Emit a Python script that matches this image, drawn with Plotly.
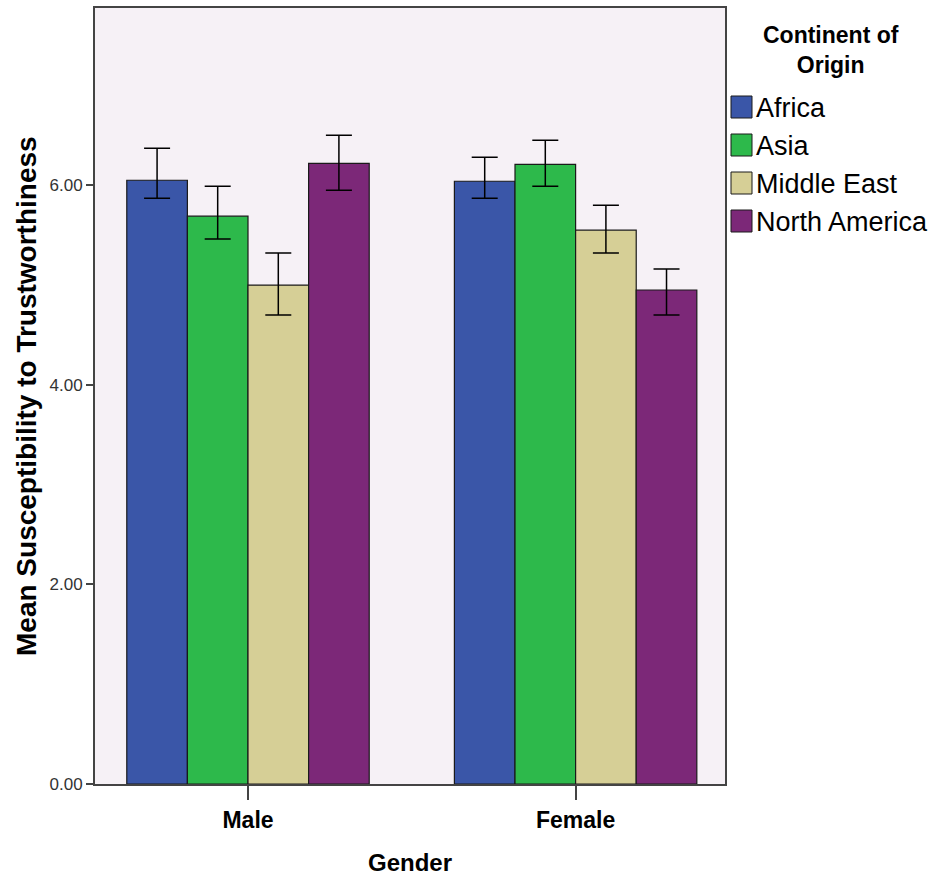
import plotly.graph_objects as go

genders = ["Male", "Female"]
continents = ["Africa", "Asia", "Middle East", "North America"]
colors = ["#3A56A8", "#2DB94B", "#D6CF96", "#7C2878"]
means = {
    "Africa": [6.05, 6.04],
    "Asia": [5.69, 6.21],
    "Middle East": [5.00, 5.55],
    "North America": [6.22, 4.95],
}
upper = {
    "Africa": [6.37, 6.28],
    "Asia": [5.99, 6.45],
    "Middle East": [5.32, 5.80],
    "North America": [6.50, 5.16],
}
lower = {
    "Africa": [5.87, 5.87],
    "Asia": [5.46, 5.99],
    "Middle East": [4.70, 5.32],
    "North America": [5.95, 4.70],
}
y_ticks = [0, 2, 4, 6]

FONT = "Liberation Sans, Arial, sans-serif"

fig = go.Figure()
for name, col in zip(continents, colors):
    m = means[name]
    fig.add_trace(go.Bar(
        x=genders, y=m, name=name,
        marker=dict(color=col, line=dict(color="#1a1a1a", width=1.2)),
        error_y=dict(type="data", symmetric=False,
                     array=[u - v for u, v in zip(upper[name], m)],
                     arrayminus=[v - l for l, v in zip(lower[name], m)],
                     color="black", thickness=1.5, width=13),
        showlegend=False,
    ))

L, R, T, B = 95, 208, 8, 91
W, H = 933, 875
pw, ph = W - L - R, H - T - B

def px_x(px):
    return (px - L) / pw

def px_y(py):
    return (H - B - py) / ph

# custom legend
shapes = []
annotations = []
for i, (name, col) in enumerate(zip(continents, colors)):
    cy = 107 + 38 * i
    shapes.append(dict(type="rect", xref="paper", yref="paper",
                       x0=px_x(731), x1=px_x(752), y0=px_y(cy + 11), y1=px_y(cy - 11),
                       fillcolor=col, line=dict(color="#1a1a1a", width=1)))
    annotations.append(dict(xref="paper", yref="paper", x=px_x(754), y=px_y(cy + 1),
                            text=name, showarrow=False, xanchor="left", yanchor="middle",
                            font=dict(family=FONT, size=27, color="black")))
annotations.append(dict(xref="paper", yref="paper", x=px_x(831), y=px_y(50),
                        text="<b>Continent of<br>Origin</b>", showarrow=False,
                        xanchor="center", yanchor="middle",
                        font=dict(family=FONT, size=23, color="black")))
# x-axis title placed just below tick labels
annotations.append(dict(xref="paper", yref="paper", x=0.5, y=px_y(862),
                        text="<b>Gender</b>", showarrow=False,
                        xanchor="center", yanchor="middle",
                        font=dict(family=FONT, size=24, color="black")))

fig.update_layout(
    width=W, height=H,
    margin=dict(l=L, r=R, t=T, b=B),
    paper_bgcolor="white",
    plot_bgcolor="#F6F1F6",
    barmode="group",
    bargap=0.26,
    bargroupgap=0,
    showlegend=False,
    shapes=shapes,
    annotations=annotations,
    font=dict(family=FONT, color="black"),
    xaxis=dict(
        type="category",
        range=[-0.467, 1.456],
        automargin=False,
        showline=True, linecolor="#444", linewidth=2, mirror=True,
        ticks="outside", ticklen=14, tickcolor="#444", tickwidth=1.5,
        tickfont=dict(family=FONT, size=23, color="black"),
        showgrid=False,
    ),
    yaxis=dict(
        range=[0, 7.776],
        automargin=False,
        tickvals=y_ticks,
        ticktext=[f"{v:.2f}" for v in y_ticks],
        showline=True, linecolor="#444", linewidth=2, mirror=True,
        ticks="outside", ticklen=7, tickcolor="#444", tickwidth=1.5,
        tickfont=dict(family=FONT, size=17, color="#333"),
        showgrid=False, zeroline=False,
    ),
)
fig.add_annotation(xref="paper", yref="paper", x=px_x(26), y=0.5,
                   text="<b>Mean Susceptibility to Trustworthiness</b>", textangle=-90,
                   showarrow=False, xanchor="center", yanchor="middle",
                   font=dict(family=FONT, size=28, color="black"))
fig.update_xaxes(ticktext=[f"<b>{g}</b>" for g in genders], tickvals=genders)

fig.write_html("out.html")
